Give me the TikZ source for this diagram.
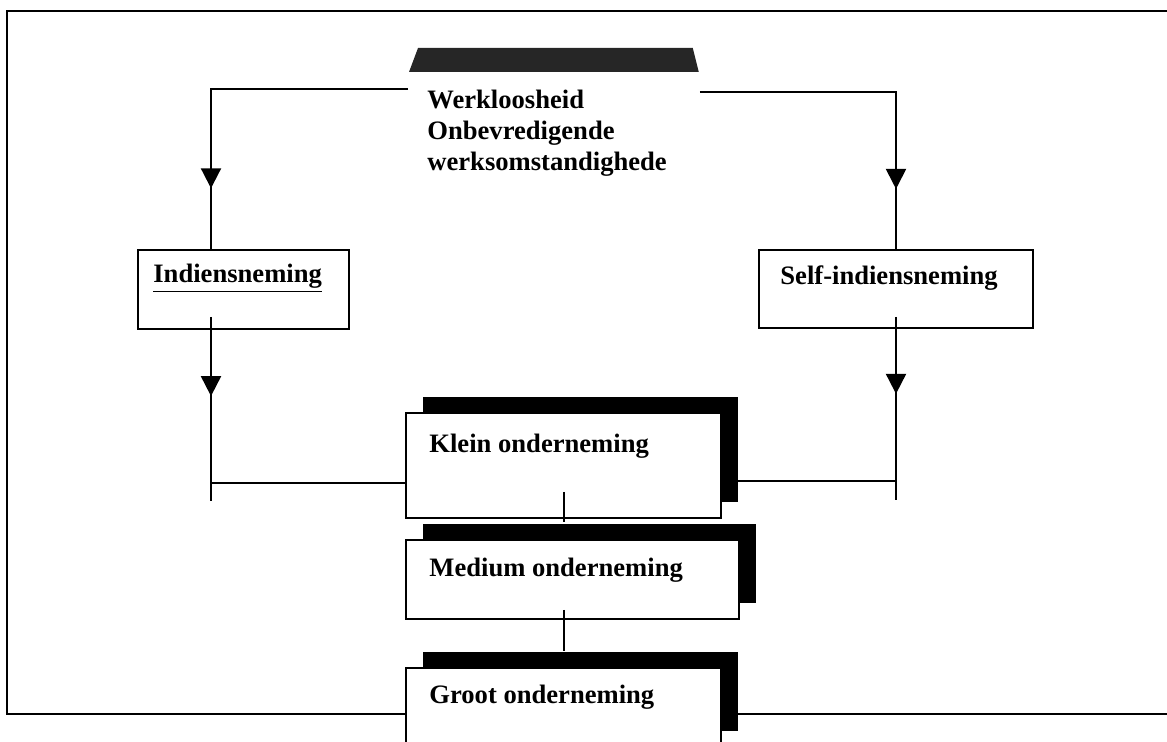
\documentclass[tikz,border=0pt]{standalone}
\usepackage{fontspec}
\setmainfont{Liberation Serif}
\usetikzlibrary{calc, positioning, arrows.meta, shadows, decorations.markings}

\begin{document}
\begin{tikzpicture}[
    x=0.5pt, y=-0.5pt,
    lyn/.style={line width=1pt},
    kas/.style={draw, fill=white, line width=1pt, anchor=north west, inner sep=0pt},
    skadu/.style={general shadow={fill=black, shadow xshift=8.5pt, shadow yshift=8pt}},
    teks/.style={anchor=base west, inner sep=0pt, font=\bfseries\fontsize{13.3}{15.5}\selectfont},
    pyl/.style={postaction={decorate}, decoration={markings,
        mark=at position #1 with {\arrow{Triangle[length=10pt, width=10pt]}}}},
  ]

  \useasboundingbox (0,0) rectangle (1167,742);
  \clip (0,0) rectangle (1167,742);

  \draw[lyn] (1167,11) -- (7,11) -- (7,714) -- (1167,714);

  \node[teks, anchor=north west, fill=white, inner xsep=9.5pt, inner ysep=9pt,
        text width=126pt, align=left] (oorsaak) at (408,72)
        {Werkloosheid\\Onbevredigende\\werksomstandighede};
  \fill[black!85] ($(oorsaak.north west)+(1,0)$) -- ($(oorsaak.north west)+(10,-24)$)
        -- ($(oorsaak.north east)+(-6,-24)$) -- (oorsaak.north east) -- cycle;

  \node[kas, minimum width=105.5pt, minimum height=39.5pt] (indiens) at (137,249) {};
  \node[kas, minimum width=137pt, minimum height=39pt] (self) at (758,249) {};
  \node[kas, skadu, minimum width=157.5pt, minimum height=52.5pt] (klein) at (405,412) {};
  \node[kas, skadu, minimum width=166.5pt, minimum height=39.5pt] (medium) at (405,539) {};
  \node[kas, skadu, minimum width=157.5pt, minimum height=39.5pt] (groot) at (405,667) {};

  \node[teks] (indienstxt) at ($(indiens.north west)+(16,34)$) {\underline{Indiensneming}};
  \node[teks] (selftxt) at ($(self.north west)+(22,36)$) {Self-indiensneming};
  \node[teks] (kleintxt) at ($(klein.north west)+(24,41)$) {Klein onderneming};
  \node[teks] (mediumtxt) at ($(medium.north west)+(24,38)$) {Medium onderneming};
  \node[teks] (groottxt) at ($(groot.north west)+(24,36)$) {Groot onderneming};

  \coordinate (inL) at ($(indiens.north west)+(74,0)$);
  \coordinate (uitL) at ($(indiens.south west)+(74,-13)$);
  \coordinate (uitR) at ($(self.south)+(0,-12)$);
  \coordinate (kL) at ($(klein.south west)+(0,-36)$);
  \coordinate (kR) at ($(klein.south east)+(0,-38)$);
  \coordinate (kS) at ($(klein.south)+(0,-27)$);
  \coordinate (mN) at ($(medium.north)+(0,-17)$);
  \coordinate (mS) at ($(kS |- medium.south)+(0,-10)$);
  \coordinate (gN) at ($(groot.north)+(0,-16)$);

  \draw[lyn, pyl=0.83] ($(oorsaak.north west)+(0,17)$) -| (inL);
  \draw[lyn, pyl=0.83] ($(oorsaak.north east)+(1,20)$) -| (self.north);
  \draw[lyn, pyl=0.43] (uitL) -- ++(0,184);
  \draw[lyn, pyl=0.42] (uitR) -- ++(0,183);
  \draw[lyn] (kL) -- (kL -| uitL);
  \draw[lyn] (kR) -- (kR -| uitR);
  \draw[lyn] (kS) -- (kS |- mN);
  \draw[lyn] (mS) -- (mS |- gN);
\end{tikzpicture}
\end{document}
